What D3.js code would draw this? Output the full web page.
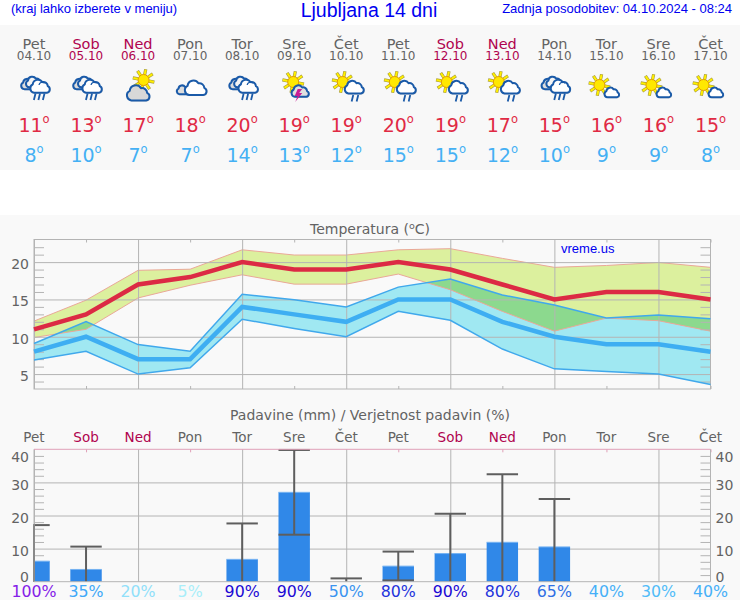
<!DOCTYPE html>
<html><head><meta charset="utf-8">
<script src="https://cdn.jsdelivr.net/npm/d3@7/dist/d3.min.js"></script>
<style>html,body{margin:0;padding:0;background:#fff}svg{display:block}
text{font-family:"DejaVu Sans",sans-serif}
.sans{font-family:"Liberation Sans",Arial,sans-serif}</style></head>
<body><svg id="c" width="740" height="600"></svg>
<script>
const dayNames=["Pet","Sob","Ned","Pon","Tor","Sre","Čet","Pet","Sob","Ned","Pon","Tor","Sre","Čet"];
const dates=["04.10","05.10","06.10","07.10","08.10","09.10","10.10","11.10","12.10","13.10","14.10","15.10","16.10","17.10"];
const icons=["rain","rain","sungrey","clouds","rain","storm","sunrain","sunrain","sunrain","sunrain","rain","suncloud","suncloud","suncloud"];
const high=[11,13,17,18,20,19,19,20,19,17,15,16,16,15];
const low=[8,10,7,7,14,13,12,15,15,12,10,9,9,8];
const highUpper=[12.1,14.9,18.9,19.05,21.65,20.95,20.95,21.65,21.8,20.5,19.3,19.55,19.95,19.3];
const highLower=[9.9,11,15.2,16.9,18.3,17.05,17.05,18.4,16.3,13.4,10.75,12.5,12.15,10.75];
const lowUpper=[9.1,12.05,8.95,8.05,15.7,14.95,14,16.65,17.75,15.6,14.25,12.5,12.9,12.4];
const lowLower=[6.9,8.05,5,5.85,12.35,11.1,10,13.4,12.2,8.35,5.7,5.35,5,3.6];
const rain=[6.2,3.7,0,0,6.75,27,0,4.7,8.5,11.9,10.5,0,0,0];
const rainUpper=[17.1,10.6,0,0,17.6,39.8,1,9.1,20.5,32.5,25,0,0,0];
const rainLower=[0,0,0,0,0,14.2,0,0.4,0,0,0,0,0,0];
const prob=[100,35,20,5,90,90,50,80,90,80,65,40,30,40];
const probColors={100:"#8420e8",90:"#1c08d4",80:"#2234dc",65:"#3070e4",50:"#3a94f0",40:"#46b0f8",35:"#40a8f8",30:"#50bcf8",20:"#90e0fa",5:"#a8eefa"};
const tempMajor=[5,10,15,20];
const rainMajor=[0,10,20,30,40];

const svg=d3.select("#c");
const GREY="#636363",WEEK="#b0044f",BLUE="#0000f0",GRID="#b4b4b4",OUT="#1a5aa8";
const idx=d3.range(14);
const x=d3.scaleLinear().domain([0,13]).range([34,710.5]);
const yT=d3.scaleLinear().domain([3,23.03]).range([389,239.5]);
const yR=d3.scaleLinear().domain([0,40]).range([581.7,449.3]);
const weekend=i=>(i%7===1||i%7===2);

svg.append("rect").attr("width",740).attr("height",145).attr("y",25).attr("fill","#f8f8f8");
svg.append("rect").attr("width",740).attr("height",385).attr("y",215).attr("fill","#f9f9f9");

// Header
const sans=(t,xx,yy,fs,anchor)=>svg.append("text").attr("class","sans").attr("x",xx).attr("y",yy).attr("font-size",fs).attr("fill",BLUE).attr("text-anchor",anchor||"start").text(t);
sans("(kraj lahko izberete v meniju)",11,13,13);
sans("Ljubljana 14 dni",369,17,19.5,"middle");
sans("Zadnja posodobitev: 04.10.2024 - 08:24",732,13,13,"end");

// Day columns
const col=svg.append("g");
idx.forEach(i=>{
  const c=x(i),f=weekend(i)?WEEK:GREY;
  col.append("text").attr("x",c).attr("y",48.5).attr("text-anchor","middle").attr("font-size",14.5).attr("fill",f).text(dayNames[i]);
  col.append("text").attr("x",c).attr("y",60).attr("text-anchor","middle").attr("font-size",12).attr("fill",f).text(dates[i]);
  [[high[i],132,"#e02a44"],[low[i],162,"#44b0f4"]].forEach(([v,yy,cl])=>{
    const t=col.append("text").attr("x",c).attr("y",yy).attr("text-anchor","middle").attr("font-size",19).attr("fill",cl);
    t.append("tspan").text(v);
    t.append("tspan").attr("dy",-9).attr("font-size",11.5).text("o");
  });
  drawIcon(col.append("g").attr("transform",`translate(${c},86)`),icons[i]);
});
function cloud(g,cx,cy,s,fill){
  const d="M-7,6 A5,5 0 0 1 -8.5,-3.4 A6,6 0 0 1 2.5,-6 A5,5 0 0 1 8.6,-1.4 A3.9,3.9 0 0 1 7.5,6 Z";
  const tr=(dx)=>`translate(${cx+0.8*s+dx},${cy+2.75*s+dx}) scale(${s})`;
  g.append("path").attr("transform",tr(1)).attr("d",d).attr("fill","#000").attr("opacity",.16);
  g.append("path").attr("transform",tr(0)).attr("d",d)
   .attr("fill",fill).attr("stroke",OUT).attr("stroke-width",2/s).attr("stroke-linejoin","round");
}
function sun(g,cx,cy,r){
  d3.range(8).forEach(k=>{
    const a=k*Math.PI/4+0.2;
    g.append("line").attr("x1",cx+Math.cos(a)*r).attr("y1",cy+Math.sin(a)*r)
      .attr("x2",cx+Math.cos(a)*(r+5.5)).attr("y2",cy+Math.sin(a)*(r+5.5))
      .attr("stroke","#8a7a00").attr("stroke-width",3.2).attr("opacity",.75);
    g.append("line").attr("x1",cx+Math.cos(a)*r).attr("y1",cy+Math.sin(a)*r)
      .attr("x2",cx+Math.cos(a)*(r+5)).attr("y2",cy+Math.sin(a)*(r+5))
      .attr("stroke","#fff000").attr("stroke-width",2);
  });
  g.append("circle").attr("cx",cx).attr("cy",cy).attr("r",r).attr("fill","#ffe800").attr("stroke","#e09a00").attr("stroke-width",1);
}
function drops(g,pts){
  pts.forEach(([a,b])=>g.append("line").attr("x1",a+1).attr("y1",b).attr("x2",a-0.6).attr("y2",b+6.5)
    .attr("stroke",OUT).attr("stroke-width",1.8));
}
function drawIcon(g,t){
  if(t==="rain"){
    cloud(g,-5.5,-3,.7,"#dcdcdc");
    cloud(g,-0.5,-5,.72,"#f4f4f4");
    cloud(g,5.5,-1,.88,"#fff");
    g.append("path").attr("d","M5,-1 a3.2,3.2 0 0 1 5.5,-1.8").attr("fill","none").attr("stroke",OUT).attr("stroke-width",1.3);
    drops(g,[[0.5,7.5],[5,7.5],[9.5,7.5]]);
  } else if(t==="clouds"){
    cloud(g,-7,3,.6,"#dcdcdc");
    cloud(g,5,.5,.98,"#fff");
  } else if(t==="sungrey"){
    sun(g,5.5,-6,5.5);
    cloud(g,-.5,5.5,1.02,"#d8d8d8");
  } else if(t==="storm"){
    sun(g,-1,-4,5.5);
    cloud(g,5.5,4,.78,"#e0e0e0");
    g.append("path").attr("d","M3.5,3 L.5,10 L3.5,10 L1,16 L8,7 L5,7 L8,3 Z").attr("fill","#c81e96");
  } else if(t==="sunrain"){
    sun(g,-3.5,-4,5.5);
    cloud(g,7.5,0,.86,"#fff");
    drops(g,[[6,9],[11,9]]);
  } else {
    sun(g,-7,-1,5.5);
    cloud(g,5,5.5,.66,"#fff");
  }
}

// Temperature chart
svg.append("text").attr("x",370).attr("y",234).attr("text-anchor","middle").attr("font-size",14).attr("fill",GREY)
  .call(t=>{t.append("tspan").text("Temperatura (");t.append("tspan").attr("dy",-5).attr("font-size",9.5).text("o");t.append("tspan").attr("dy",5).text("C)");});

const areaOf=(u,l,sc)=>d3.area().x(i=>x(i)).y0(i=>sc(l[i])).y1(i=>sc(u[i]))(idx);
const lineOf=(v,sc)=>d3.line().x(i=>x(i)).y(i=>sc(v[i]))(idx);
svg.append("clipPath").attr("id","hiClip").append("path").attr("d",areaOf(highUpper,highLower,yT));
svg.append("path").attr("d",areaOf(highUpper,highLower,yT)).attr("fill","#dcf09e");
svg.append("path").attr("d",areaOf(lowUpper,lowLower,yT)).attr("fill","#a0e8f2");
svg.append("path").attr("d",areaOf(lowUpper,lowLower,yT)).attr("fill","#8cd98e").attr("clip-path","url(#hiClip)");
[highUpper,highLower].forEach(s=>svg.append("path").attr("d",lineOf(s,yT)).attr("fill","none").attr("stroke","#eaa898").attr("stroke-width",1));

function gridAxes(sc,majors,minors){
  const W=676.5,g=svg.append("g");
  const style=a=>{a.select(".domain").remove();};
  g.append("g").attr("transform","translate(34,0)").call(d3.axisLeft(sc).tickValues(majors).tickSize(-W).tickFormat("")).call(style)
    .selectAll("line").attr("stroke",GRID);
  g.append("g").attr("transform","translate(34,0)").call(d3.axisLeft(sc).tickValues(minors).tickSize(-10).tickFormat("")).call(style)
    .selectAll("line").attr("stroke",GRID);
  g.append("g").attr("transform","translate(710.5,0)").call(d3.axisRight(sc).tickValues(minors).tickSize(-10).tickFormat("")).call(style)
    .selectAll("line").attr("stroke",GRID);
  return g;
}
const xMajor=idx.filter(i=>i%2===0), xMinor=idx.filter(i=>i%2===1);
gridAxes(yT,tempMajor,d3.range(4,23).filter(v=>v%5!==0));
svg.append("g").attr("transform","translate(0,389)").call(d3.axisBottom(x).tickValues(xMajor).tickSize(-149.5).tickFormat(""))
  .call(a=>a.select(".domain").remove()).selectAll("line").attr("stroke",GRID);
svg.append("g").attr("transform","translate(0,389)").call(d3.axisBottom(x).tickValues(xMinor).tickSize(-3).tickFormat(""))
  .call(a=>a.select(".domain").remove()).selectAll("line").attr("stroke",GRID);
svg.append("g").attr("transform","translate(0,239.5)").call(d3.axisTop(x).tickValues(xMinor).tickSize(-3).tickFormat(""))
  .call(a=>a.select(".domain").remove()).selectAll("line").attr("stroke",GRID);
svg.append("rect").attr("x",34).attr("y",239.5).attr("width",676.5).attr("height",149.5).attr("fill","none").attr("stroke",GRID);

[lowUpper,lowLower].forEach(s=>svg.append("path").attr("d",lineOf(s,yT)).attr("fill","none").attr("stroke","#40a8ec").attr("stroke-width",1.5));
svg.append("path").attr("d",lineOf(low,yT)).attr("fill","none").attr("stroke","#3eaef2").attr("stroke-width",4.5);
svg.append("path").attr("d",lineOf(high,yT)).attr("fill","none").attr("stroke","#dc2a44").attr("stroke-width",4.5);

svg.append("g").attr("transform","translate(34,0)").call(d3.axisLeft(yT).tickValues(tempMajor).tickSize(0).tickPadding(5))
  .call(a=>a.select(".domain").remove())
  .selectAll("text").attr("font-size",14).attr("font-family","DejaVu Sans").attr("fill",GREY).attr("dy","0.45em");
sans("vreme.us",561,253,13);

// Precipitation chart
svg.append("text").attr("x",370).attr("y",420).attr("text-anchor","middle").attr("font-size",14).attr("fill",GREY)
  .text("Padavine (mm) / Verjetnost padavin (%)");
idx.forEach(i=>svg.append("text").attr("x",x(i)).attr("y",442).attr("text-anchor","middle").attr("font-size",13.5)
  .attr("fill",weekend(i)?WEEK:GREY).text(dayNames[i]));

gridAxes(yR,[10,20,30],d3.range(2,40,2).filter(v=>v%10!==0));
svg.append("g").attr("transform","translate(0,581.7)").call(d3.axisBottom(x).tickValues(xMajor).tickSize(-132.4).tickFormat(""))
  .call(a=>a.select(".domain").remove()).selectAll("line").attr("stroke",GRID);
svg.append("g").attr("transform","translate(0,449.3)").call(d3.axisTop(x).tickValues(xMinor).tickSize(-3).tickFormat(""))
  .call(a=>a.select(".domain").remove()).selectAll("line").attr("stroke","#e0a0b8");

svg.append("clipPath").attr("id","plotClip").append("rect").attr("x",33).attr("y",445).attr("width",678).attr("height",137);
const bars=svg.append("g").attr("clip-path","url(#plotClip)");
const barHalf=15.7;
bars.selectAll("rect").data(idx.filter(i=>rain[i]>0)).join("rect")
  .attr("x",i=>Math.max(x(i)-barHalf,34)).attr("width",i=>x(i)+barHalf-Math.max(x(i)-barHalf,34))
  .attr("y",i=>yR(rain[i])).attr("height",i=>yR(0)-yR(rain[i])).attr("fill","#3088e8");
bars.selectAll("line.top").data(idx.filter(i=>rain[i]>0)).join("line").attr("class","top")
  .attr("x1",i=>Math.max(x(i)-barHalf,34)).attr("x2",i=>x(i)+barHalf).attr("y1",i=>yR(rain[i])).attr("y2",i=>yR(rain[i]))
  .attr("stroke","#74b2f2").attr("stroke-width",1);

svg.append("line").attr("x1",34).attr("x2",710.5).attr("y1",yR(0)).attr("y2",yR(0)).attr("stroke",GRID);
svg.append("line").attr("x1",34).attr("x2",34).attr("y1",449.3).attr("y2",581.7).attr("stroke",GRID);
svg.append("line").attr("x1",710.5).attr("x2",710.5).attr("y1",449.3).attr("y2",581.7).attr("stroke",GRID);
svg.append("line").attr("x1",34).attr("x2",710.5).attr("y1",449.3).attr("y2",449.3).attr("stroke","#e0a0b8");

const err=bars.append("g").attr("stroke","#5e5e5e").attr("stroke-width",2);
idx.filter(i=>rainUpper[i]>0).forEach(i=>{
  err.append("line").attr("x1",x(i)).attr("x2",x(i)).attr("y1",yR(rainUpper[i])).attr("y2",yR(rainLower[i]));
  err.append("line").attr("x1",Math.max(x(i)-barHalf,33)).attr("x2",x(i)+barHalf).attr("y1",yR(rainUpper[i])).attr("y2",yR(rainUpper[i]));
  if(rainLower[i]>0) err.append("line").attr("x1",x(i)-barHalf).attr("x2",x(i)+barHalf).attr("y1",yR(rainLower[i])).attr("y2",yR(rainLower[i]));
});

const labelDy=v=>v===40?"0.85em":v===0?"-0.05em":"0.5em";
[[d3.axisLeft,34,5],[d3.axisRight,710.5,5]].forEach(([ax,tx,pad])=>{
  svg.append("g").attr("transform",`translate(${tx},0)`).call(ax(yR).tickValues(rainMajor).tickSize(0).tickPadding(pad))
    .call(a=>a.select(".domain").remove())
    .selectAll("text").attr("font-size",14).attr("font-family","DejaVu Sans").attr("fill",GREY).attr("dy",labelDy);
});
idx.forEach(i=>svg.append("text").attr("x",x(i)).attr("y",596.5).attr("text-anchor","middle").attr("font-size",15.8)
  .attr("fill",probColors[prob[i]]).text(prob[i]+"%"));
</script></body></html>
